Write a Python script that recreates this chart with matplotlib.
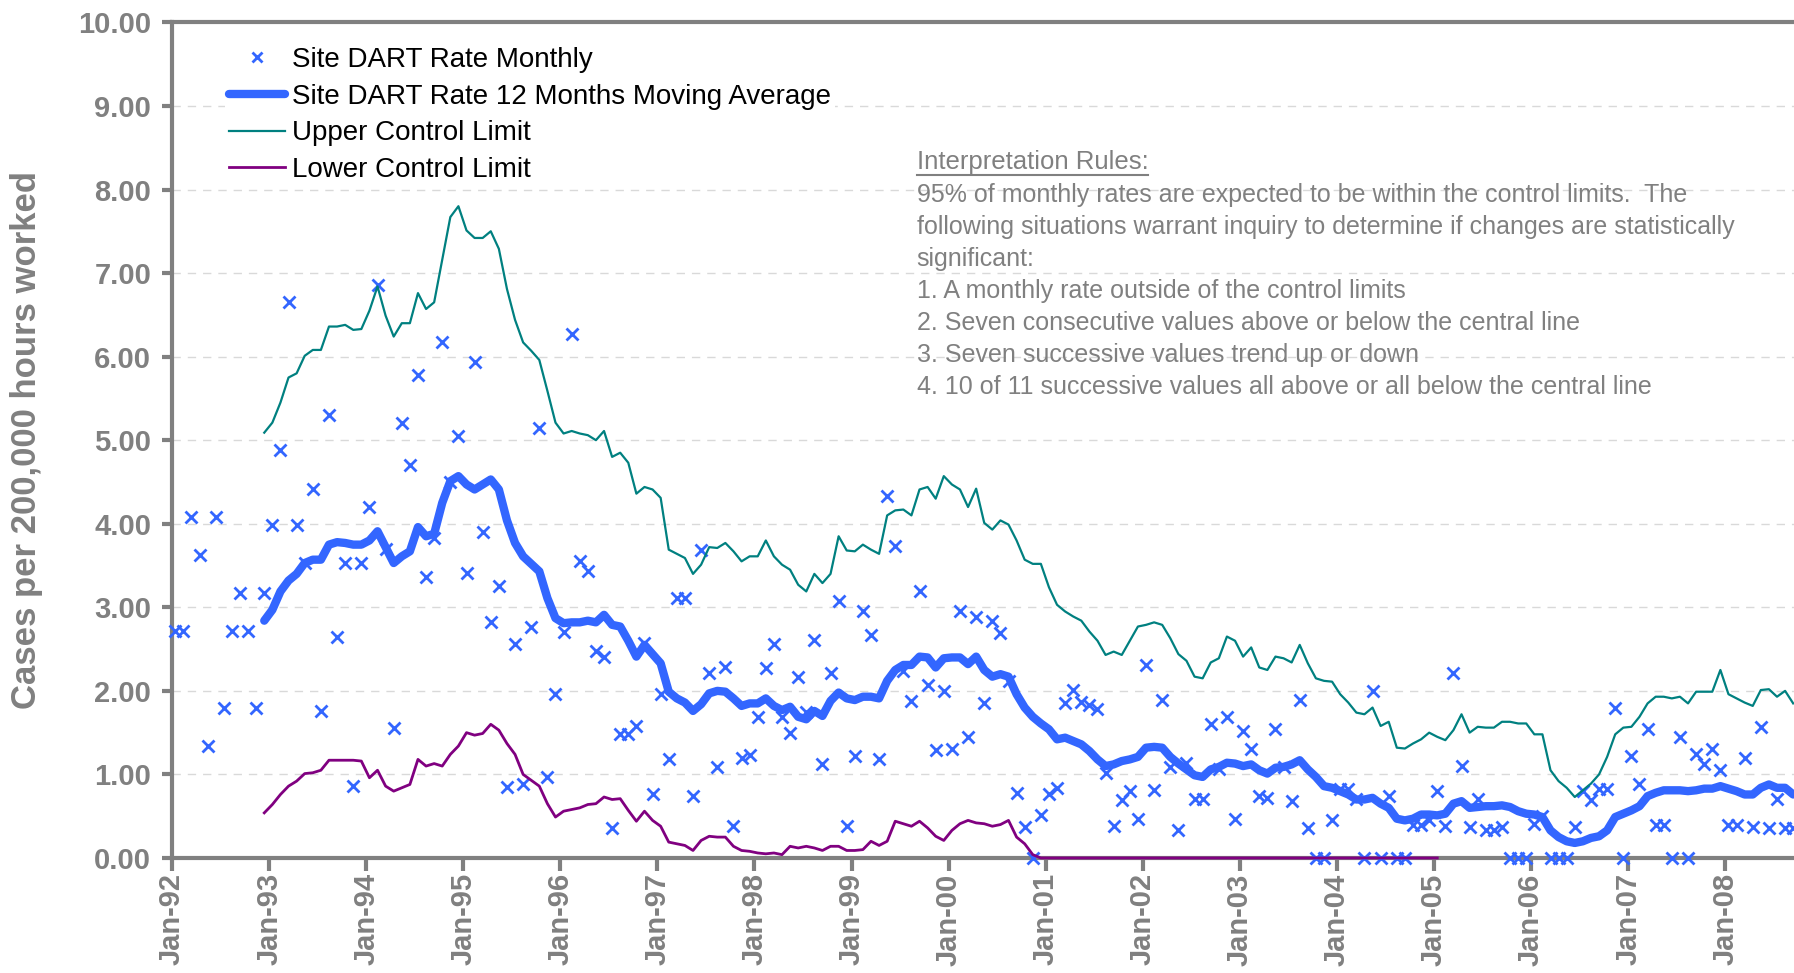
import numpy as np
import matplotlib.pyplot as plt
from matplotlib.lines import Line2D
from matplotlib.transforms import IdentityTransform

plt.rcParams["font.family"] = ["Liberation Sans", "DejaVu Sans"]

# month index 0 = Jan-92
monthly_rate = [
    2.72, 2.72, 4.08, 3.63, 1.34, 4.08, 1.79, 2.72, 3.17, 2.72, 1.79, 3.17,
    3.98, 4.88, 6.65, 3.98, 3.53, 4.42, 1.76, 5.30, 2.65, 3.53, 0.86, 3.53,
    4.20, 6.86, 3.70, 1.55, 5.21, 4.70, 5.78, 3.36, 3.83, 6.18, 4.50, 5.05,
    3.41, 5.93, 3.90, 2.83, 3.25, 0.85, 2.56, 0.88, 2.77, 5.15, 0.97, 1.96,
    2.71, 6.27, 3.55, 3.44, 2.48, 2.40, 0.36, 1.48, 1.48, 1.58, 2.57, 0.77,
    1.96, 1.18, 3.11, 3.11, 0.74, 3.69, 2.21, 1.09, 2.28, 0.38, 1.20, 1.23,
    1.69, 2.27, 2.56, 1.69, 1.49, 2.16, 1.75, 2.61, 1.13, 2.21, 3.08, 0.38,
    1.22, 2.96, 2.67, 1.18, 4.33, 3.73, 2.24, 1.88, 3.20, 2.07, 1.29, 2.00,
    1.30, 2.96, 1.45, 2.88, 1.86, 2.84, 2.69, 2.12, 0.78, 0.37, 0.00, 0.51,
    0.77, 0.84, 1.85, 2.01, 1.87, 1.83, 1.78, 1.02, 0.38, 0.69, 0.80, 0.47,
    2.31, 0.81, 1.89, 1.09, 0.34, 1.14, 0.70, 0.70, 1.60, 1.06, 1.69, 0.47,
    1.52, 1.30, 0.74, 0.72, 1.54, 1.09, 0.68, 1.89, 0.36, 0.00, 0.00, 0.45,
    0.83, 0.83, 0.70, 0.00, 2.00, 0.00, 0.74, 0.00, 0.00, 0.39, 0.39, 0.45,
    0.80, 0.38, 2.21, 1.10, 0.37, 0.70, 0.34, 0.34, 0.37, 0.00, 0.00, 0.00,
    0.41, 0.50, 0.00, 0.00, 0.00, 0.37, 0.80, 0.69, 0.83, 0.83, 1.80, 0.00,
    1.22, 0.88, 1.54, 0.39, 0.39, 0.00, 1.45, 0.00, 1.24, 1.12, 1.31, 1.05,
    0.39, 0.39, 1.20, 0.37, 1.57, 0.36, 0.70, 0.36, 0.36,
]

# lines start at Dec-92 (month 11)
line_start = 11
moving_avg = [
    2.84, 2.97, 3.19, 3.32, 3.40, 3.53, 3.57, 3.57, 3.75, 3.78, 3.77, 3.75,
    3.75, 3.80, 3.91, 3.72, 3.53, 3.61, 3.67, 3.96, 3.85, 3.88, 4.25, 4.51,
    4.57, 4.47, 4.41, 4.47, 4.53, 4.41, 4.04, 3.77, 3.61, 3.52, 3.43, 3.11,
    2.87, 2.81, 2.82, 2.82, 2.84, 2.82, 2.91, 2.79, 2.77, 2.60, 2.41, 2.55,
    2.44, 2.33, 1.99, 1.91, 1.86, 1.76, 1.84, 1.97, 2.00, 1.99, 1.91, 1.82,
    1.85, 1.85, 1.91, 1.82, 1.77, 1.81, 1.69, 1.66, 1.76, 1.70, 1.88, 1.98,
    1.91, 1.89, 1.93, 1.93, 1.91, 2.12, 2.25, 2.31, 2.31, 2.41, 2.40, 2.28,
    2.39, 2.40, 2.40, 2.32, 2.41, 2.25, 2.17, 2.20, 2.17, 1.96, 1.80, 1.69,
    1.61, 1.54, 1.42, 1.44, 1.40, 1.36, 1.28, 1.18, 1.10, 1.12, 1.16, 1.18,
    1.21, 1.32, 1.33, 1.32, 1.21, 1.13, 1.06, 0.99, 0.97, 1.06, 1.09, 1.14,
    1.13, 1.10, 1.12, 1.05, 1.01, 1.08, 1.09, 1.12, 1.17, 1.06, 0.97, 0.86,
    0.84, 0.80, 0.76, 0.70, 0.70, 0.72, 0.65, 0.60, 0.47, 0.45, 0.47, 0.52,
    0.52, 0.51, 0.53, 0.65, 0.68, 0.60, 0.61, 0.62, 0.62, 0.63, 0.61, 0.56,
    0.53, 0.52, 0.49, 0.33, 0.25, 0.20, 0.18, 0.20, 0.24, 0.26, 0.33, 0.49,
    0.53, 0.57, 0.62, 0.74, 0.78, 0.81, 0.81, 0.81, 0.80, 0.81, 0.83, 0.83,
    0.86, 0.83, 0.80, 0.76, 0.76, 0.84, 0.88, 0.84, 0.84, 0.76,
]
upper_limit = [
    5.09, 5.21, 5.45, 5.75, 5.80, 6.01, 6.08, 6.08, 6.36, 6.36, 6.38, 6.32,
    6.33, 6.55, 6.84, 6.49, 6.24, 6.40, 6.40, 6.76, 6.57, 6.65, 7.16, 7.67,
    7.80, 7.51, 7.42, 7.42, 7.50, 7.29, 6.81, 6.44, 6.17, 6.07, 5.96, 5.59,
    5.21, 5.08, 5.11, 5.08, 5.06, 5.00, 5.11, 4.80, 4.85, 4.73, 4.36, 4.44,
    4.41, 4.31, 3.69, 3.64, 3.59, 3.40, 3.51, 3.72, 3.71, 3.77, 3.67, 3.55,
    3.61, 3.61, 3.80, 3.61, 3.51, 3.45, 3.27, 3.19, 3.40, 3.29, 3.40, 3.85,
    3.68, 3.67, 3.75, 3.69, 3.64, 4.10, 4.16, 4.17, 4.10, 4.41, 4.44, 4.30,
    4.57, 4.47, 4.41, 4.20, 4.42, 4.01, 3.93, 4.04, 3.99, 3.80, 3.57, 3.52,
    3.52, 3.24, 3.03, 2.95, 2.89, 2.84, 2.71, 2.60, 2.43, 2.47, 2.43, 2.60,
    2.77, 2.79, 2.82, 2.79, 2.63, 2.44, 2.36, 2.17, 2.15, 2.34, 2.39, 2.65,
    2.60, 2.41, 2.52, 2.28, 2.25, 2.41, 2.39, 2.34, 2.55, 2.33, 2.15, 2.12,
    2.11, 1.96, 1.86, 1.74, 1.72, 1.80, 1.58, 1.63, 1.32, 1.31, 1.37, 1.42,
    1.50, 1.45, 1.41, 1.53, 1.72, 1.50, 1.57, 1.56, 1.56, 1.63, 1.63, 1.61,
    1.61, 1.48, 1.48, 1.05, 0.92, 0.84, 0.73, 0.81, 0.89, 1.00, 1.21, 1.48,
    1.56, 1.57, 1.69, 1.85, 1.93, 1.93, 1.91, 1.93, 1.85, 1.99, 1.99, 1.99,
    2.25, 1.96, 1.91, 1.86, 1.82, 2.01, 2.02, 1.93, 2.00, 1.85,
]
# lower limit is drawn until Jan-05
lower_limit = [
    0.54, 0.64, 0.76, 0.86, 0.92, 1.01, 1.02, 1.05, 1.17, 1.17, 1.17, 1.17,
    1.16, 0.96, 1.05, 0.86, 0.80, 0.84, 0.88, 1.18, 1.10, 1.13, 1.10, 1.24,
    1.34, 1.50, 1.47, 1.49, 1.60, 1.53, 1.37, 1.24, 1.00, 0.93, 0.86, 0.65,
    0.49, 0.56, 0.58, 0.60, 0.64, 0.65, 0.73, 0.70, 0.71, 0.57, 0.44, 0.56,
    0.45, 0.38, 0.19, 0.17, 0.15, 0.09, 0.21, 0.26, 0.25, 0.25, 0.14, 0.09,
    0.08, 0.06, 0.05, 0.06, 0.04, 0.14, 0.12, 0.14, 0.12, 0.09, 0.14, 0.14,
    0.09, 0.09, 0.10, 0.20, 0.15, 0.20, 0.44, 0.41, 0.38, 0.44, 0.36, 0.26,
    0.21, 0.33, 0.41, 0.45, 0.42, 0.41, 0.38, 0.40, 0.45, 0.25, 0.17, 0.04,
    0.00, 0.00, 0.00, 0.00, 0.00, 0.00, 0.00, 0.00, 0.00, 0.00, 0.00, 0.00,
    0.00, 0.00, 0.00, 0.00, 0.00, 0.00, 0.00, 0.00, 0.00, 0.00, 0.00, 0.00,
    0.00, 0.00, 0.00, 0.00, 0.00, 0.00, 0.00, 0.00, 0.00, 0.00, 0.00, 0.00,
    0.00, 0.00, 0.00, 0.00, 0.00, 0.00, 0.00, 0.00, 0.00, 0.00, 0.00, 0.00,
    0.00, 0.00,
]

year_labels = ["Jan-92", "Jan-93", "Jan-94", "Jan-95", "Jan-96", "Jan-97",
               "Jan-98", "Jan-99", "Jan-00", "Jan-01", "Jan-02", "Jan-03",
               "Jan-04", "Jan-05", "Jan-06", "Jan-07", "Jan-08"]

rules_title = "Interpretation Rules:"
rules_lines = [
    "95% of monthly rates are expected to be within the control limits.  The",
    "following situations warrant inquiry to determine if changes are statistically",
    "significant:",
    "1. A monthly rate outside of the control limits",
    "2. Seven consecutive values above or below the central line",
    "3. Seven successive values trend up or down",
    "4. 10 of 11 successive values all above or all below the central line",
]

GRAY = "#808080"
BLUE = "#3366FF"
TEAL = "#008080"
PURPLE = "#800080"

fig = plt.figure(figsize=(17.94, 9.73), dpi=100)
ax = fig.add_axes([0.0959, 0.1182, 0.9041, 0.8588])

offset = 0.4  # points sit inside their month
x_pts = np.arange(len(monthly_rate)) + offset
ax.plot(x_pts, monthly_rate, linestyle="none", marker="x", color=BLUE,
        markersize=8, markeredgewidth=2, zorder=3, clip_on=False,
        label="Site DART Rate Monthly")

x_ma = np.arange(len(moving_avg)) + line_start + offset
ax.plot(x_ma, moving_avg, color=BLUE, linewidth=6, solid_capstyle="round",
        zorder=4, label="Site DART Rate 12 Months Moving Average")
x_ucl = np.arange(len(upper_limit)) + line_start + offset
ax.plot(x_ucl, upper_limit, color=TEAL, linewidth=1.6, zorder=4,
        label="Upper Control Limit")
x_lcl = np.arange(len(lower_limit)) + line_start + offset
ax.plot(x_lcl, lower_limit, color=PURPLE, linewidth=2, zorder=5,
        clip_on=False, label="Lower Control Limit")

ax.set_xlim(0, 200.5)
ax.set_ylim(0, 10)
ax.set_xticks(np.arange(len(year_labels)) * 12)
ax.set_xticklabels(year_labels, rotation=90, fontsize=21, fontweight="bold",
                   color=GRAY)
ax.set_yticks(np.arange(0, 11))
ax.set_yticklabels([f"{v:.2f}" for v in range(11)], fontsize=21,
                   fontweight="bold", color=GRAY)
ax.tick_params(axis="x", length=9, width=3, color=GRAY, pad=2)
ax.tick_params(axis="y", length=7, width=3, color=GRAY, pad=8)

for side in ["left", "bottom", "top"]:
    ax.spines[side].set_color(GRAY)
    ax.spines[side].set_linewidth(3)
ax.spines["right"].set_visible(False)
ax.grid(axis="y", color="#D9D9D9", linestyle=(0, (6, 5)), linewidth=1)
ax.set_axisbelow(True)

fig.text(0.015, 0.548, "Cases per 200,000 hours worked", rotation=90,
         ha="center", va="center", fontsize=25, fontweight="bold", color=GRAY)

leg = ax.legend(loc="upper left", bbox_to_anchor=(0.024, 0.992), fontsize=20,
                frameon=True, facecolor="white", edgecolor="none",
                framealpha=1, labelspacing=0.38, handlelength=2.0,
                handletextpad=0.25, borderpad=0.15, markerscale=0.9)

# interpretation rules block
tx = 0.511
title = fig.text(tx, 1 - 162 / 973, rules_title, fontsize=18.5, color=GRAY,
                 va="center")
for i, line in enumerate(rules_lines):
    fig.text(tx, 1 - (195 + i * 32) / 973, line, fontsize=18, color=GRAY,
             va="center")

fig.canvas.draw()
bb = title.get_window_extent()
fig.add_artist(Line2D([bb.x0, bb.x1], [bb.y0 - 1, bb.y0 - 1], color=GRAY,
                      linewidth=1.5, transform=IdentityTransform()))

fig.savefig("out.png", dpi=100)
